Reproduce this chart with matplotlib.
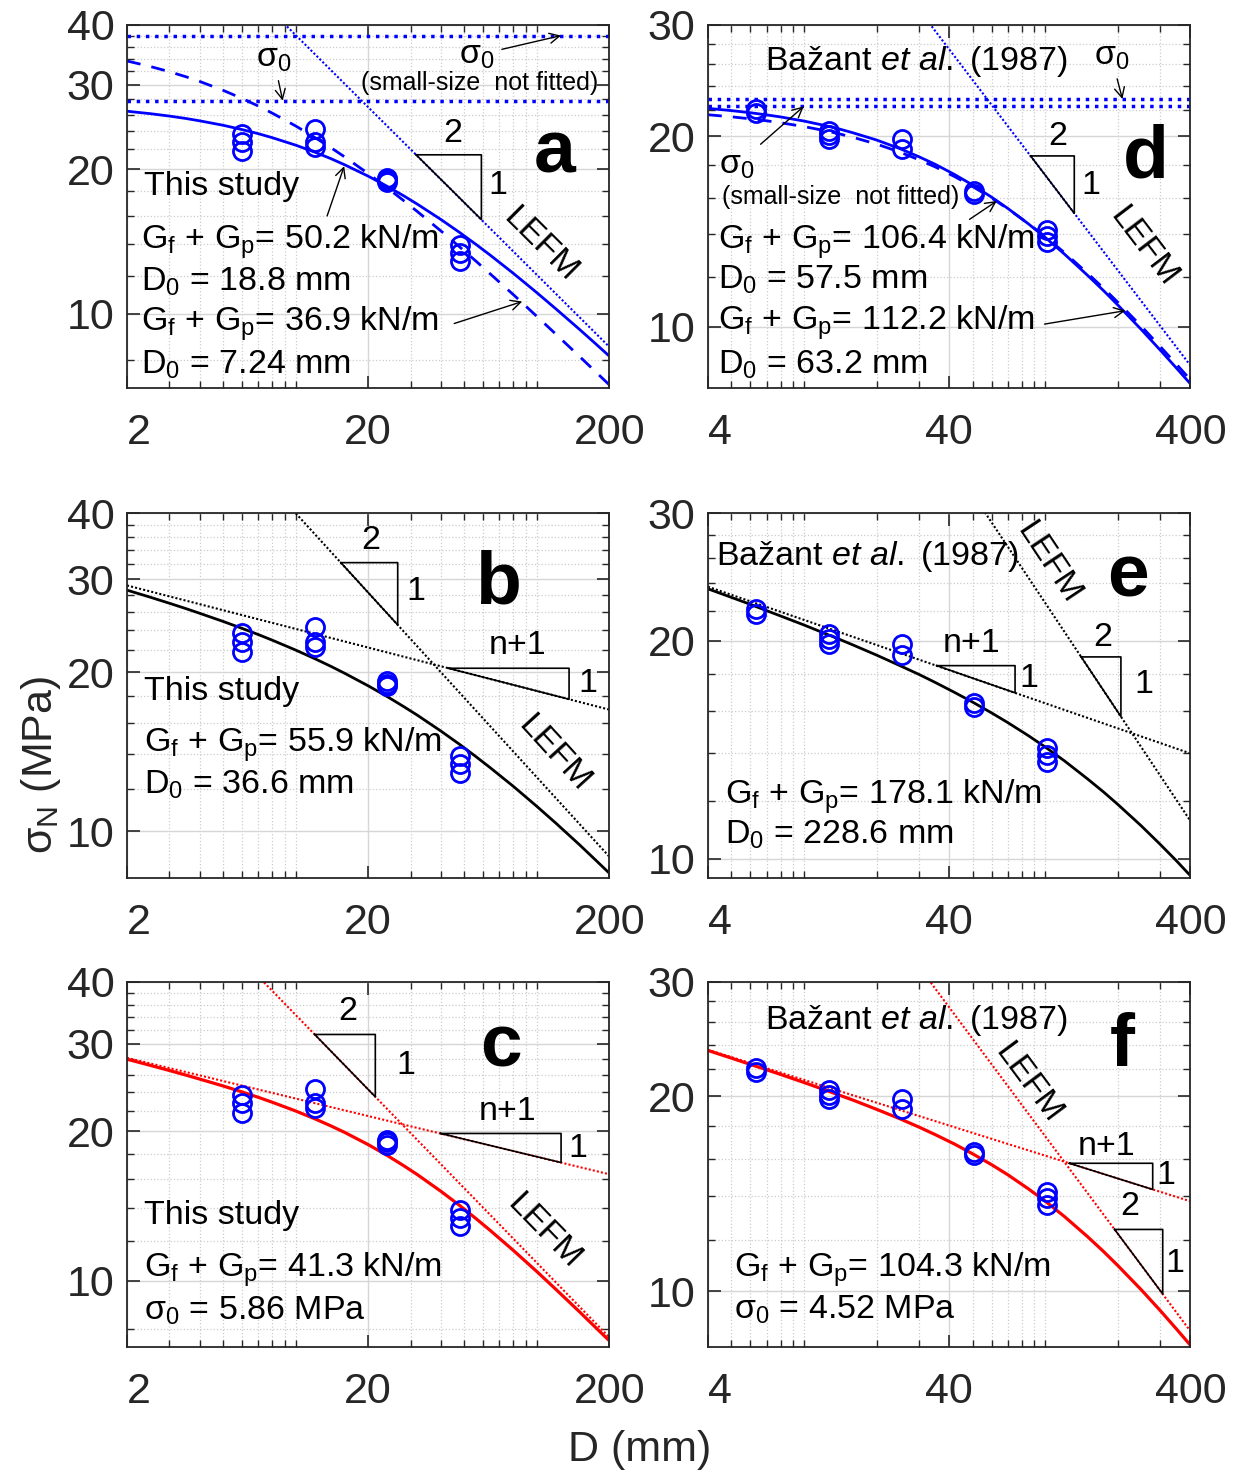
#!/usr/bin/env python3
"""
Size effect plots: nominal strength vs. specimen size (log-log),
six panels (a-f), this study (left) and Bazant et al. 1987 (right).
"""

import numpy as np
import matplotlib
matplotlib.use('Agg')
import matplotlib.pyplot as plt
from matplotlib.ticker import NullFormatter

plt.rcParams['font.family'] = ['Liberation Sans', 'DejaVu Sans']
plt.rcParams['mathtext.fontset'] = 'custom'
plt.rcParams['mathtext.rm'] = 'Liberation Sans'
plt.rcParams['mathtext.it'] = 'Liberation Sans:italic'
plt.rcParams['mathtext.bf'] = 'Liberation Sans:bold'

# ---- measured data ----
D_study = [6, 6, 6, 12, 12, 12, 24, 24, 24, 48, 48, 48]
sig_study = [23.7, 22.8, 21.8, 24.3, 22.8, 22.3, 19.2, 19.0, 18.8, 13.9, 13.4, 12.9]

D_bazant = [6.35, 6.35, 12.7, 12.7, 12.7, 25.4, 25.4, 50.8, 50.8, 101.6, 101.6, 101.6]
sig_bazant = [22.1, 21.8, 20.4, 20.1, 19.8, 19.8, 19.1, 16.4, 16.2, 14.2, 13.9, 13.6]

# ---- fitted curves ----
D_fit_left = [2, 2.5, 3, 3.5, 4, 5, 6, 7, 8, 10, 12, 14, 16, 20, 24, 28, 32,
              40, 48, 56, 64, 80, 100, 120, 150, 175, 200]
D_fit_right = [4, 5, 6, 7, 8, 10, 12, 14, 16, 20, 25, 30, 35, 42, 50, 60, 70,
               85, 100, 120, 150, 175, 200, 250, 300, 350, 400]

fit_a_solid = [26.43, 26.12, 25.82, 25.53, 25.24, 24.71, 24.20, 23.73, 23.28, 22.46, 21.72, 21.05, 20.43, 19.35,
               18.42, 17.62, 16.91, 15.72, 14.75, 13.94, 13.25, 12.13, 11.06, 10.23, 9.28, 8.66, 8.15]
fit_a_dash = [33.64, 32.76, 31.95, 31.20, 30.50, 29.23, 28.10, 27.10, 26.19, 24.63, 23.31, 22.19, 21.21, 19.59,
              18.29, 17.22, 16.32, 14.88, 13.76, 12.86, 12.11, 10.95, 9.87, 9.06, 8.15, 7.57, 7.10]
fit_b = [28.59, 27.72, 27.00, 26.39, 25.85, 24.95, 24.20, 23.56, 22.99, 22.02, 21.21, 20.51, 19.89, 18.84,
         17.97, 17.22, 16.57, 15.47, 14.58, 13.83, 13.19, 12.15, 11.14, 10.35, 9.43, 8.82, 8.32]
fit_c = [27.95, 27.16, 26.52, 25.97, 25.49, 24.69, 24.01, 23.42, 22.89, 21.98, 21.20, 20.51, 19.89, 18.80,
         17.87, 17.06, 16.35, 15.14, 14.16, 13.33, 12.63, 11.50, 10.43, 9.60, 8.66, 8.05, 7.56]
fit_d_solid = [22.14, 21.96, 21.79, 21.62, 21.46, 21.14, 20.83, 20.54, 20.25, 19.73, 19.12, 18.56, 18.06, 17.41,
               16.75, 16.02, 15.38, 14.55, 13.84, 13.03, 12.05, 11.39, 10.82, 9.90, 9.18, 8.60, 8.12]
fit_d_dash = [21.63, 21.47, 21.31, 21.16, 21.01, 20.72, 20.44, 20.18, 19.92, 19.44, 18.88, 18.36, 17.89, 17.28,
              16.66, 15.97, 15.36, 14.56, 13.88, 13.10, 12.14, 11.49, 10.93, 10.02, 9.30, 8.72, 8.24]
fit_e = [23.58, 22.95, 22.44, 22.00, 21.63, 21.02, 20.51, 20.09, 19.72, 19.10, 18.47, 17.96, 17.51, 16.97,
         16.45, 15.89, 15.41, 14.79, 14.26, 13.65, 12.88, 12.35, 11.88, 11.10, 10.46, 9.93, 9.47]
fit_f = [23.52, 22.89, 22.38, 21.96, 21.60, 20.99, 20.49, 20.07, 19.71, 19.08, 18.45, 17.91, 17.44, 16.87,
         16.29, 15.67, 15.12, 14.39, 13.77, 13.04, 12.13, 11.50, 10.95, 10.05, 9.33, 8.74, 8.25]

# ---- asymptotes (end points) ----
sig0_a = [38.0, 27.8]
sig0_d = [22.9, 22.3]
lefm_a = ([8, 200], [42.6, 8.52])
lefm_b = ([9, 200], [42.16, 8.94])
lefm_c = ([7, 200], [41.04, 7.68])
lefm_d = ([30, 400], [31.70, 8.68])
lefm_e = ([55, 400], [30.41, 11.27])
lefm_f = ([32, 400], [30.65, 8.67])
power_b = ([2, 200], [29.18, 16.98])
power_c = ([2, 200], [28.13, 16.38])
power_e = ([4, 400], [23.74, 13.97])
power_f = ([4, 400], [23.58, 13.76])

# slope triangles: (D_left, D_right, sig_top, sig_bottom)
tri_a = (31.6, 58.9, 21.44, 15.71)
tri_b = (15.4, 26.5, 32.23, 24.57)
tri_b_n = (43, 136, 20.34, 17.77)
tri_c = (12.0, 21.4, 31.35, 23.47)
tri_c_n = (39.9, 126, 19.80, 17.30)
tri_d = (87, 132, 18.62, 15.11)
tri_e = (141, 206, 18.99, 15.71)
tri_e_n = (35.5, 75, 18.47, 16.94)
tri_f = (194, 307, 12.45, 9.90)
tri_f_n = (126, 279, 15.75, 14.35)

BLUE = '#0000ff'
RED = '#ff0000'
TXT = 24.5
DOT = (0, (1, 1))


def setup(ax, left):
    ax.set_xscale('log')
    ax.set_yscale('log')
    decades = [m * 10.0**k for k in range(0, 3) for m in range(1, 10)]
    if left:
        xmaj = [2, 20, 200]
        xmin_ = [v for v in decades if 2 < v < 200 and v != 20]
        ymaj = [10, 20, 30, 40]
        ymin_ = [8, 12, 14, 16, 18, 22, 24, 26, 28, 32, 34, 36, 38]
        ax.set_xlim(2, 200)
    else:
        xmaj = [4, 40, 400]
        xmin_ = [v for v in decades if 4 < v < 400 and v != 40]
        ymaj = [10, 20, 30]
        ymin_ = [12, 14, 16, 18, 22, 24, 26, 28]
        ax.set_xlim(4, 400)
    ax.set_xticks(xmaj, labels=[str(v) for v in xmaj])
    ax.set_xticks(xmin_, minor=True)
    ax.set_yticks(ymaj, labels=[str(v) for v in ymaj])
    ax.set_yticks(ymin_, minor=True)
    ax.xaxis.set_minor_formatter(NullFormatter())
    ax.yaxis.set_minor_formatter(NullFormatter())
    ax.grid(True, which='major', color='#d6d6d6', lw=1.0, ls='-')
    ax.grid(True, which='minor', color='#cccccc', lw=0.9, ls=':')
    ax.set_axisbelow(True)
    ax.tick_params(which='both', direction='in', top=True, right=True,
                   colors='#262626', labelsize=31)
    ax.tick_params(which='major', length=9, width=1.2)
    ax.tick_params(which='minor', length=5, width=1.0)
    ax.tick_params(axis='x', pad=18)
    ax.tick_params(axis='y', pad=9)
    ax.get_xticklabels()[0].set_ha('left')
    for sp in ax.spines.values():
        sp.set_color('#262626')
        sp.set_linewidth(1.3)


def txt(ax, x, y, s, size=TXT, ha='left', **kw):
    ax.text(x, y, s, transform=ax.transAxes, fontsize=size, ha=ha,
            va='center', color='k', **kw)


def arrow(ax, tip, start, label=''):
    ax.annotate(label, xy=tip, xycoords='data', xytext=start,
                textcoords='axes fraction', fontsize=TXT, ha='center', va='center',
                arrowprops=dict(arrowstyle='->', color='k', lw=1.0,
                                shrinkA=3, shrinkB=0, mutation_scale=18))


def triangle(ax, tri):
    d1, d2, s1, s2 = tri
    ax.plot([d1, d2, d2, d1], [s1, s1, s2, s1], color='k', lw=1.2, zorder=4)


def lefm_text(ax, line, x, y):
    # rotate the label along the LEFM asymptote as drawn on screen
    p1 = ax.transData.transform((line[0][0], line[1][0]))
    p2 = ax.transData.transform((line[0][1], line[1][1]))
    ang = np.degrees(np.arctan2(p2[1] - p1[1], p2[0] - p1[0]))
    txt(ax, x, y, 'LEFM', ha='center', rotation=ang)


def points(ax, D, s):
    ax.plot(D, s, 'o', mfc='none', mec=BLUE, mew=2, ms=13, zorder=5)


G = 'G$_\\mathrm{f}$ + G$_\\mathrm{p}$= '
BAZ = 'Ba\u017eant $\\mathit{et\\ al.}$ (1987)'

fig = plt.figure(figsize=(12.34, 14.74), dpi=100)
xl, xr, w = 0.1029, 0.5737, 0.3910
rows = [(0.7368, 0.2463), (0.4043, 0.2476), (0.0862, 0.2476)]
axs = {}
for key, (x0, (y0, h)) in zip('abcdef', [(xl, rows[0]), (xl, rows[1]), (xl, rows[2]),
                                         (xr, rows[0]), (xr, rows[1]), (xr, rows[2])]):
    axs[key] = fig.add_axes([x0, y0, w, h])

ylims = {'a': (7.0, 40), 'b': (8.15, 40), 'c': (7.35, 40),
         'd': (8.0, 30), 'e': (9.4, 30), 'f': (8.2, 30)}
for k, ax in axs.items():
    setup(ax, k in 'abc')
    ax.set_ylim(*ylims[k])

# ---- panel a ----
ax = axs['a']
for s0 in sig0_a:
    ax.axhline(s0, color=BLUE, lw=2.5, ls=':')
ax.plot(*lefm_a, color=BLUE, lw=1.5, ls=DOT)
ax.plot(D_fit_left, fit_a_dash, color=BLUE, lw=2, ls=(0, (5, 4)))
ax.plot(D_fit_left, fit_a_solid, color=BLUE, lw=2)
triangle(ax, tri_a)
points(ax, D_study, sig_study)
arrow(ax, (8.84, 27.8), (0.304, 0.908), 'σ$_0$')
arrow(ax, (126, 38.0), (0.726, 0.917), 'σ$_0$')
txt(ax, 0.730, 0.839, '(small-size  not fitted)', size=18, ha='center')
txt(ax, 0.886, 0.647, 'a', size=54, ha='center', fontweight='bold')
txt(ax, 0.035, 0.555, 'This study')
txt(ax, 0.029, 0.403, G + '50.2 kN/m')
txt(ax, 0.029, 0.293, 'D$_0$ = 18.8 mm')
txt(ax, 0.029, 0.178, G + '36.9 kN/m')
txt(ax, 0.029, 0.063, 'D$_0$ = 7.24 mm')
arrow(ax, (15.9, 20.3), (0.412, 0.463))
arrow(ax, (87, 10.6), (0.670, 0.174))
txt(ax, 0.675, 0.702, '2', ha='center')
txt(ax, 0.768, 0.559, '1', ha='center')
lefm_text(ax, lefm_a, 0.857, 0.394)

# ---- panel b ----
ax = axs['b']
ax.plot(*lefm_b, color='k', lw=1.5, ls=DOT)
ax.plot(*power_b, color='k', lw=1.5, ls=DOT)
ax.plot(D_fit_left, fit_b, color='k', lw=2)
triangle(ax, tri_b)
triangle(ax, tri_b_n)
points(ax, D_study, sig_study)
txt(ax, 0.505, 0.926, '2', ha='center')
txt(ax, 0.598, 0.785, '1', ha='center')
txt(ax, 0.768, 0.807, 'b', size=54, ha='center', fontweight='bold')
txt(ax, 0.810, 0.638, 'n+1', ha='center')
txt(ax, 0.955, 0.533, '1', ha='center')
txt(ax, 0.035, 0.510, 'This study')
txt(ax, 0.035, 0.364, G + '55.9 kN/m')
txt(ax, 0.035, 0.255, 'D$_0$ = 36.6 mm')
lefm_text(ax, lefm_b, 0.886, 0.342)

# ---- panel c ----
ax = axs['c']
ax.plot(*lefm_c, color=RED, lw=1.5, ls=DOT)
ax.plot(*power_c, color=RED, lw=1.5, ls=DOT)
ax.plot(D_fit_left, fit_c, color=RED, lw=2.3)
triangle(ax, tri_c)
triangle(ax, tri_c_n)
points(ax, D_study, sig_study)
txt(ax, 0.458, 0.918, '2', ha='center')
txt(ax, 0.577, 0.772, '1', ha='center')
txt(ax, 0.776, 0.822, 'c', size=54, ha='center', fontweight='bold')
txt(ax, 0.789, 0.644, 'n+1', ha='center')
txt(ax, 0.934, 0.544, '1', ha='center')
txt(ax, 0.035, 0.361, 'This study')
txt(ax, 0.035, 0.211, G + '41.3 kN/m')
txt(ax, 0.035, 0.100, 'σ$_0$ = 5.86 MPa')
lefm_text(ax, lefm_c, 0.865, 0.315)

# ---- panel d ----
ax = axs['d']
for s0 in sig0_d:
    ax.axhline(s0, color=BLUE, lw=2.5, ls=':')
ax.plot(*lefm_d, color=BLUE, lw=1.5, ls=DOT)
ax.plot(D_fit_right, fit_d_dash, color=BLUE, lw=2, ls=(0, (5, 4)))
ax.plot(D_fit_right, fit_d_solid, color=BLUE, lw=2)
triangle(ax, tri_d)
points(ax, D_bazant, sig_bazant)
txt(ax, 0.118, 0.899, BAZ)
arrow(ax, (209, 22.9), (0.836, 0.913), 'σ$_0$')
arrow(ax, (9.98, 22.3), (0.060, 0.614), 'σ$_0$')
txt(ax, 0.029, 0.527, '(small-size  not fitted)', size=18)
arrow(ax, (63, 15.8), (0.535, 0.458))
txt(ax, 0.907, 0.633, 'd', size=54, ha='center', fontweight='bold')
txt(ax, 0.020, 0.403, G + '106.4 kN/m')
txt(ax, 0.020, 0.298, 'D$_0$ = 57.5 mm')
txt(ax, 0.020, 0.179, G + '112.2 kN/m')
txt(ax, 0.020, 0.063, 'D$_0$ = 63.2 mm')
arrow(ax, (215, 10.6), (0.689, 0.174))
txt(ax, 0.725, 0.692, '2', ha='center')
txt(ax, 0.794, 0.559, '1', ha='center')
lefm_text(ax, lefm_d, 0.903, 0.389)

# ---- panel e ----
ax = axs['e']
ax.plot(*lefm_e, color='k', lw=1.5, ls=DOT)
ax.plot(*power_e, color='k', lw=1.5, ls=DOT)
ax.plot(D_fit_right, fit_e, color='k', lw=2)
triangle(ax, tri_e)
triangle(ax, tri_e_n)
points(ax, D_bazant, sig_bazant)
txt(ax, 0.016, 0.881, BAZ)
lefm_text(ax, lefm_e, 0.705, 0.863)
txt(ax, 0.871, 0.826, 'e', size=54, ha='center', fontweight='bold')
txt(ax, 0.547, 0.643, 'n+1', ha='center')
txt(ax, 0.664, 0.548, '1', ha='center')
txt(ax, 0.818, 0.658, '2', ha='center')
txt(ax, 0.903, 0.530, '1', ha='center')
txt(ax, 0.035, 0.223, G + '178.1 kN/m')
txt(ax, 0.035, 0.119, 'D$_0$ = 228.6 mm')

# ---- panel f ----
ax = axs['f']
ax.plot(*lefm_f, color=RED, lw=1.5, ls=DOT)
ax.plot(*power_f, color=RED, lw=1.5, ls=DOT)
ax.plot(D_fit_right, fit_f, color=RED, lw=2.3)
triangle(ax, tri_f)
triangle(ax, tri_f_n)
points(ax, D_bazant, sig_bazant)
txt(ax, 0.119, 0.895, BAZ)
txt(ax, 0.859, 0.822, 'f', size=54, ha='center', fontweight='bold')
lefm_text(ax, lefm_f, 0.664, 0.722)
txt(ax, 0.826, 0.548, 'n+1', ha='center')
txt(ax, 0.948, 0.470, '1', ha='center')
txt(ax, 0.875, 0.384, '2', ha='center')
txt(ax, 0.968, 0.228, '1', ha='center')
txt(ax, 0.054, 0.211, G + '104.3 kN/m')
txt(ax, 0.054, 0.101, 'σ$_0$ = 4.52 MPa')

# axis labels
fig.text(0.033, 1 - 765 / 1474, 'σ$_\\mathrm{N}$ (MPa)', rotation=90,
         fontsize=31, ha='center', va='center', color='#262626')
fig.text(640 / 1234, 1 - 1450 / 1474, 'D (mm)', fontsize=31,
         ha='center', va='center', color='#262626')

fig.savefig('out.png', dpi=100)
plt.close(fig)
